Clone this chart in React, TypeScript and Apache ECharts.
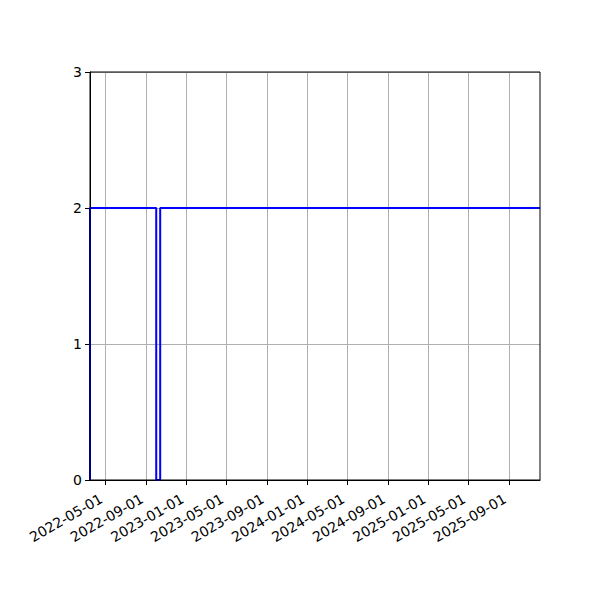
import { useEffect, useRef } from 'react'
import * as echarts from 'echarts'

// Serie em degraus: datas dos pontos (UTC) e valores
const datas = ['2022-03-15', '2022-03-15', '2022-10-01', '2022-10-01', '2022-10-13', '2022-10-13', '2025-12-03']
const valores = [0, 2, 2, 0, 0, 2, 2]

// marcas do eixo X a cada 4 meses
const rotulosX = [
  '2022-05-01', '2022-09-01', '2023-01-01', '2023-05-01', '2023-09-01', '2024-01-01',
  '2024-05-01', '2024-09-01', '2025-01-01', '2025-05-01', '2025-09-01',
]

const paraTs = (d: string) => {
  const [a, m, dia] = d.split('-').map(Number)
  return Date.UTC(a, m - 1, dia)
}
const pad = (n: number) => String(n).padStart(2, '0')
const formatar = (ts: number) => {
  const d = new Date(ts)
  return `${d.getUTCFullYear()}-${pad(d.getUTCMonth() + 1)}-${pad(d.getUTCDate())}`
}

export default function App() {
  const ref = useRef<HTMLDivElement>(null)

  useEffect(() => {
    if (!ref.current) return
    const chart = echarts.init(ref.current, undefined, { renderer: 'svg' })
    const fonte = 'DejaVu Sans, sans-serif'
    // eixo X numerico em milissegundos: as marcas de data vem de customValues
    const ticksX = rotulosX.map(paraTs)
    const grade = { left: 90, right: 60, top: 72, bottom: 120 }
    chart.setOption({
      animation: false,
      backgroundColor: '#ffffff',
      textStyle: { fontFamily: fonte },
      grid: grade,
      // moldura por cima da linha, como as bordas do matplotlib
      graphic: [
        {
          type: 'rect',
          z: 100,
          silent: true,
          shape: { x: grade.left, y: grade.top, width: 600 - grade.left - grade.right, height: 600 - grade.top - grade.bottom },
          style: { fill: 'none', stroke: '#000', lineWidth: 1 },
        },
      ],
      xAxis: {
        type: 'value',
        min: paraTs(datas[0]),
        max: paraTs(datas[datas.length - 1]),
        axisLine: { onZero: false, lineStyle: { color: '#000', width: 1 } },
        axisTick: { show: true, length: 5, lineStyle: { color: '#000' }, customValues: ticksX },
        axisLabel: {
          customValues: ticksX,
          formatter: (v: number) => formatar(v),
          rotate: 30,
          color: '#000',
          fontSize: 14,
          fontFamily: fonte,
          margin: 15,
          padding: [0, 5, 0, 0],
          hideOverlap: false,
        },
        splitLine: { show: true, lineStyle: { color: '#b0b0b0', width: 1 } },
      },
      yAxis: {
        type: 'value',
        min: 0,
        max: 3,
        interval: 1,
        axisLine: { show: true, lineStyle: { color: '#000', width: 1 } },
        axisTick: { show: true, length: 5, lineStyle: { color: '#000' } },
        axisLabel: { color: '#000', fontSize: 14, fontFamily: fonte, margin: 8 },
        splitLine: { show: true, lineStyle: { color: '#b0b0b0', width: 1 } },
      },
      series: [
        {
          type: 'line',
          data: datas.map((d, i) => [paraTs(d), valores[i]]),
          symbol: 'none',
          lineStyle: { color: '#0000ff', width: 2 },
          itemStyle: { color: '#0000ff' },
        },
      ],
    })
    return () => chart.dispose()
  }, [])

  return (
    <div
      ref={ref}
      style={{ position: 'fixed', left: 0, top: 0, width: 600, height: 600, background: '#fff' }}
    />
  )
}
